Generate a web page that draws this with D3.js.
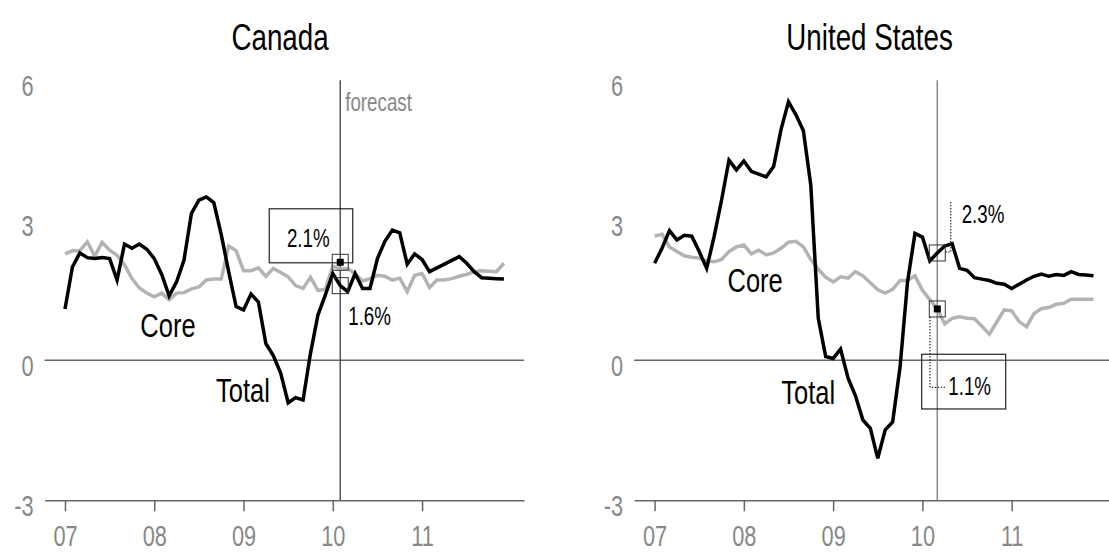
<!DOCTYPE html>
<html>
<head>
<meta charset="utf-8">
<script src="https://cdn.jsdelivr.net/npm/d3@7"></script>
<style>
body { margin: 0; background: #fff; }
svg text { font-family: "Liberation Sans", Arial, sans-serif; }
</style>
</head>
<body>
<div id="chart"></div>
<script>
// tick positions / labels
var years = [2007, 2008, 2009, 2010, 2011];
var yearLabels = ["07", "08", "09", "10", "11"];
var yTicks = [-3, 0, 3, 6];

// monthly y/y inflation, Jan 2007 - Dec 2011
var caTotal = [1.1, 2.0, 2.3, 2.2, 2.18, 2.2, 2.18, 1.72, 2.49, 2.4,
               2.49, 2.38, 2.18, 1.84, 1.38, 1.68, 2.15, 3.15, 3.43, 3.5,
               3.38, 2.7, 1.9, 1.15, 1.08, 1.42, 1.25, 0.36, 0.1, -0.28,
               -0.91, -0.8, -0.85, 0.15, 0.97, 1.4, 1.86, 1.6, 1.47, 1.86,
               1.54, 1.54, 2.18, 2.55, 2.79, 2.73, 2.06, 2.28, 2.16, 1.9,
               1.98, 2.06, 2.14, 2.22, 2.08, 1.9, 1.77, 1.76, 1.75, 1.74];
var caCore = [2.28, 2.35, 2.35, 2.54, 2.23, 2.53, 2.36, 2.25, 2.05, 1.75,
              1.55, 1.44, 1.36, 1.44, 1.3, 1.44, 1.45, 1.53, 1.57, 1.72,
              1.74, 1.74, 2.45, 2.35, 1.92, 1.92, 1.98, 1.8, 1.97, 1.88,
              1.79, 1.6, 1.54, 1.78, 1.5, 1.52, 2.02, 1.95, 1.97, 1.85,
              1.7, 1.75, 1.82, 1.8, 1.72, 1.76, 1.47, 1.82, 1.86, 1.56,
              1.72, 1.72, 1.75, 1.8, 1.84, 1.9, 1.92, 1.91, 1.9, 2.08];
var usTotal = [2.08, 2.4, 2.78, 2.58, 2.68, 2.66, 2.33, 1.97, 2.65, 3.43,
               4.29, 4.08, 4.27, 4.05, 3.99, 3.93, 4.15, 4.95, 5.54, 5.26,
               4.92, 3.75, 0.9, 0.08, 0.04, 0.24, -0.38, -0.76, -1.28, -1.46,
               -2.1, -1.49, -1.32, -0.14, 1.68, 2.72, 2.64, 2.13, 2.3, 2.45,
               2.5, 1.97, 1.93, 1.77, 1.74, 1.71, 1.65, 1.63, 1.54, 1.63,
               1.72, 1.8, 1.85, 1.8, 1.84, 1.82, 1.9, 1.84, 1.83, 1.81];
var usCore = [2.66, 2.7, 2.43, 2.33, 2.24, 2.21, 2.19, 2.13, 2.11, 2.16,
              2.33, 2.43, 2.47, 2.28, 2.36, 2.26, 2.3, 2.4, 2.53, 2.55,
              2.43, 2.16, 1.95, 1.78, 1.68, 1.79, 1.76, 1.9, 1.81, 1.66,
              1.51, 1.44, 1.52, 1.71, 1.71, 1.81, 1.5, 1.3, 1.1, 0.78,
              0.9, 0.93, 0.9, 0.89, 0.73, 0.56, 0.82, 1.08, 1.06, 0.83,
              0.72, 1.0, 1.11, 1.13, 1.2, 1.22, 1.31, 1.31, 1.31, 1.31];

// forecast start and the two highlighted values
var caForecast = 2010 + 1 / 12;
var usForecast = 2010 + 2 / 12;
var caMarks = [2.1, 1.6];   // core-box value, total value
var usMarks = [2.3, 1.1];   // total value, core-box value

// the original face is a condensed one; squeeze Liberation Sans horizontally
var SQ = 0.75;

var svg = d3.select("#chart").append("svg")
    .attr("width", 1109)
    .attr("height", 552);

var x = d3.scaleLinear().domain([2007 - 2.74 / 12, 2007 + 61.7 / 12]).range([44.6, 524]);
var y = d3.scaleLinear().domain([-3, 6]).range([500.3, 80.3]);

var line = d3.line()
    .x(function(d, i) { return x(2007 + i / 12); })
    .y(function(d) { return y(d); });

function txt(g, tx, ty, str, size, anchor, fill) {
    return g.append("text")
        .attr("transform", "translate(" + tx + "," + ty + ") scale(" + SQ + ",1)")
        .attr("text-anchor", anchor || "start")
        .attr("fill", fill || "#000")
        .style("font-size", size + "px")
        .text(str);
}

function drawPanel(g, cfg) {

    txt(g, 280, 50, cfg.title, 37, "middle");

    // axes
    var xa = g.append("g")
        .attr("transform", "translate(0," + y(-3) + ")")
        .call(d3.axisBottom(x).tickValues(years)
            .tickFormat(function(d, i) { return yearLabels[i]; })
            .tickSize(11).tickSizeOuter(0).tickPadding(14));
    xa.selectAll("path, line").attr("stroke", "#666").attr("stroke-width", 1.5);
    xa.selectAll("text").attr("fill", "#888").style("font-size", "29px")
        .attr("transform", "scale(" + SQ + ",1)");

    var ya = g.append("g")
        .attr("transform", "translate(" + x.range()[0] + ",0)")
        .call(d3.axisLeft(y).tickValues(yTicks).tickSize(0).tickPadding(11)
            .tickFormat(function(d) { return String(d); }));
    ya.select(".domain").remove();
    ya.selectAll("text").attr("fill", "#888").attr("dy", "0.52em").style("font-size", "29px")
        .attr("x", -11 / SQ)
        .attr("transform", "scale(" + SQ + ",1)");

    g.append("line")
        .attr("x1", x.range()[0]).attr("x2", x.range()[1])
        .attr("y1", y(0)).attr("y2", y(0))
        .attr("stroke", "#666").attr("stroke-width", 1.5);

    g.append("line")
        .attr("x1", x(cfg.forecast)).attr("x2", x(cfg.forecast))
        .attr("y1", y(6)).attr("y2", y(-3))
        .attr("stroke", cfg.vColor).attr("stroke-width", 1.5);

    g.append("path").datum(cfg.core)
        .attr("d", line).attr("fill", "none")
        .attr("stroke", "#b3b3b3").attr("stroke-width", 3.5);

    g.append("path").datum(cfg.total)
        .attr("d", line).attr("fill", "none")
        .attr("stroke", "#000").attr("stroke-width", 3.5);

    txt(g, cfg.coreLabel[0], cfg.coreLabel[1], "Core", 34, "middle");
    txt(g, cfg.totalLabel[0], cfg.totalLabel[1], "Total", 34, "middle");
}

function marker(g, mx, my, filled) {
    g.append("rect")
        .attr("x", mx - 8).attr("y", my - 8).attr("width", 16).attr("height", 16)
        .attr("fill", "none").attr("stroke", "#333").attr("stroke-width", 1);
    if (filled) {
        g.append("rect")
            .attr("x", mx - 3.5).attr("y", my - 3.5).attr("width", 7).attr("height", 7)
            .attr("fill", "#000");
    }
}

// Canada
var left = svg.append("g");
drawPanel(left, {
    title: "Canada", total: caTotal, core: caCore, forecast: caForecast,
    vColor: "#555", coreLabel: [168, 337], totalLabel: [243, 402]
});
txt(left, x(caForecast) + 5, 111, "forecast", 25, "start", "#888");

var mx = x(caForecast), my = y(caMarks[0]);
left.append("rect")
    .attr("x", mx - 71).attr("y", my - 53.5).attr("width", 83.5).attr("height", 54)
    .attr("fill", "none").attr("stroke", "#222").attr("stroke-width", 1.2);
marker(left, mx, my, true);
txt(left, mx - 32, my - 15, caMarks[0].toFixed(1) + "%", 25, "middle");

var my2 = y(caMarks[1]);
marker(left, mx, my2, false);
txt(left, mx + 8, my2 + 39.5, caMarks[1].toFixed(1) + "%", 25);

// United States
var right = svg.append("g").attr("transform", "translate(589.6,0)");
drawPanel(right, {
    title: "United States", total: usTotal, core: usCore, forecast: usForecast,
    vColor: "#888", coreLabel: [165.5, 292], totalLabel: [218.6, 404]
});

var ux = x(usForecast), uy = y(usMarks[0]);
marker(right, ux, uy, false);
right.append("path")
    .attr("d", "M" + (ux + 8) + "," + (uy - 1) + "H" + (ux + 13.5) + "V" + (uy - 51))
    .attr("fill", "none").attr("stroke", "#000").attr("stroke-width", 1)
    .attr("stroke-dasharray", "1.5,1.5");
txt(right, ux + 24.4, uy - 29.7, usMarks[0].toFixed(1) + "%", 25);

var uy2 = y(usMarks[1]);
marker(right, ux, uy2, true);
right.append("path")
    .attr("d", "M" + (ux - 7.3) + "," + (uy2 + 8) + "V" + (uy2 + 78.3) + "H" + (ux + 7.7))
    .attr("fill", "none").attr("stroke", "#000").attr("stroke-width", 1)
    .attr("stroke-dasharray", "1.5,1.5");
right.append("rect")
    .attr("x", ux - 15.6).attr("y", uy2 + 45.3).attr("width", 84).attr("height", 54.7)
    .attr("fill", "none").attr("stroke", "#222").attr("stroke-width", 1.2);
txt(right, ux + 11, uy2 + 86, usMarks[1].toFixed(1) + "%", 25);
</script>
</body>
</html>
